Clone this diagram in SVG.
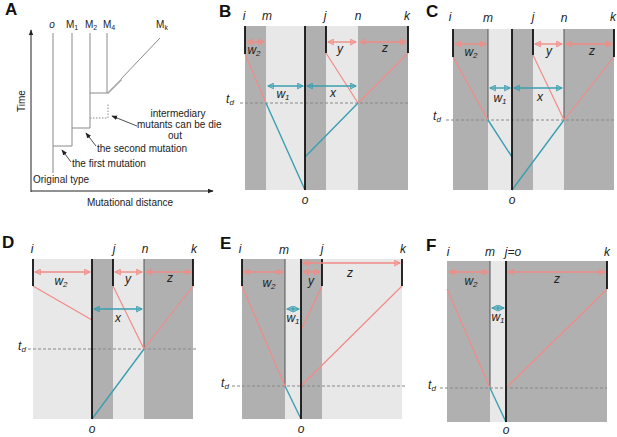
<svg xmlns="http://www.w3.org/2000/svg" width="617" height="437" viewBox="0 0 617 437">
<defs>
<marker id="ap" viewBox="0 0 8 8" refX="7" refY="4" markerWidth="7" markerHeight="7" markerUnits="userSpaceOnUse" orient="auto-start-reverse"><path d="M1,1 L7,4 L1,7 z" fill="none" stroke="#f28b85" stroke-width="1.2"/></marker>
<marker id="at" viewBox="0 0 8 8" refX="7" refY="4" markerWidth="7" markerHeight="7" markerUnits="userSpaceOnUse" orient="auto-start-reverse"><path d="M1,1 L7,4 L1,7 z" fill="none" stroke="#3b9fb0" stroke-width="1.2"/></marker>
<marker id="ak" viewBox="0 0 8 8" refX="7" refY="4" markerWidth="6" markerHeight="6" markerUnits="userSpaceOnUse" orient="auto"><path d="M0,1 L8,4 L0,7 z" fill="#222"/></marker>
</defs>
<style>
text{font-family:"Liberation Sans",Arial,sans-serif;fill:#222}
.pl{font-size:17px;font-weight:bold;fill:#111}
.lb{font-size:12px;font-style:italic;text-anchor:middle}
.an{font-size:10px}
.dk{fill:#b0b0b0}
.lt{fill:#e8e8e8}
.ob{stroke:#111;stroke-width:1.8}
.tn{stroke:#555;stroke-width:1}
.pa{stroke:#f28b85;stroke-width:1.4;marker-start:url(#ap);marker-end:url(#ap)}
.ta{stroke:#3b9fb0;stroke-width:1.4;marker-start:url(#at);marker-end:url(#at)}
.pk{stroke:#f28b85;stroke-width:1.2;fill:none}
.tl{stroke:#3b9fb0;stroke-width:1.4;fill:none}
.da{stroke:#888;stroke-width:1;stroke-dasharray:3,2}
.ga{stroke:#8a8a8a;stroke-width:1;fill:none}
</style>
<rect width="617" height="437" fill="#fff"/>

<g id="panelA">
<text class="pl" x="5" y="15">A</text>
<line x1="31" y1="192" x2="31" y2="30" stroke="#222" stroke-width="1" marker-end="url(#ak)"/>
<line x1="31" y1="191" x2="213" y2="191" stroke="#222" stroke-width="1" marker-end="url(#ak)"/>
<text class="an" transform="translate(25,101) rotate(-90)" text-anchor="middle">Time</text>
<text class="an" x="130" y="206" text-anchor="middle">Mutational distance</text>
<text class="an" x="52" y="28" font-style="italic" text-anchor="middle">o</text>
<text class="an" x="72" y="28" text-anchor="middle">M<tspan font-size="7" dy="2">1</tspan></text>
<text class="an" x="91" y="28" text-anchor="middle">M<tspan font-size="7" dy="2">2</tspan></text>
<text class="an" x="109" y="28" text-anchor="middle">M<tspan font-size="7" dy="2">4</tspan></text>
<text class="an" x="162" y="28" text-anchor="middle">M<tspan font-size="7" dy="2">k</tspan></text>
<path class="ga" d="M53,33 V173 M72,33 V146 H53 M90,33 V128 H72 M107,33 V93 H90"/>
<path class="ga" stroke-dasharray="1.5,1.5" d="M90,118 H108 V103"/>
<path class="ga" d="M107,93 h2 v-2 h2 v-2 h2 v-2 h2 v-2 h2 v-2 h2 v-2 h2 v-2 L160,38"/>
<text class="an" x="178" y="117" text-anchor="middle">intermediary</text>
<text class="an" x="137" y="128">mutants can be die</text>
<text class="an" x="175" y="139" text-anchor="middle">out</text>
<line x1="137" y1="126" x2="112" y2="116" stroke="#222" stroke-width="0.8" marker-end="url(#ak)"/>
<text class="an" x="97" y="152">the second mutation</text>
<line x1="96" y1="146" x2="86" y2="133" stroke="#222" stroke-width="0.8" marker-end="url(#ak)"/>
<text class="an" x="72" y="167">the first mutation</text>
<line x1="71" y1="162" x2="62" y2="150" stroke="#222" stroke-width="0.8" marker-end="url(#ak)"/>
<text class="an" x="33" y="183">Original type</text>
</g>

<g id="panelB">
<text class="pl" x="219" y="17">B</text>
<rect class="dk" x="245" y="26" width="21" height="164"/>
<rect class="lt" x="266" y="26" width="39" height="164"/>
<rect class="dk" x="305" y="26" width="21" height="164"/>
<rect class="lt" x="326" y="26" width="32" height="164"/>
<rect class="dk" x="358" y="26" width="50" height="164"/>
<text class="lb" x="244" y="20">i</text>
<text class="lb" x="267" y="20">m</text>
<text class="lb" x="325" y="20">j</text>
<text class="lb" x="358" y="20">n</text>
<text class="lb" x="407" y="20">k</text>
<line class="da" x1="240" y1="103" x2="408" y2="103"/>
<text class="lb" x="230" y="103">t<tspan font-size="8" dy="2">d</tspan></text>
<path class="pk" d="M245,54 L266,103 M326,53 L358,103 M408,53 L358,103"/>
<path class="tl" d="M266,103 L305,190 M358,103 L305,157"/>
<line class="ob" x1="305" y1="26" x2="305" y2="190"/>
<line class="ob" x1="245" y1="26" x2="245" y2="54"/>
<line class="ob" x1="326" y1="26" x2="326" y2="53"/>
<line class="ob" x1="408" y1="26" x2="408" y2="53"/>
<line class="pa" x1="247" y1="42" x2="264" y2="42"/>
<line class="pa" x1="328" y1="42" x2="356" y2="42"/>
<line class="pa" x1="360" y1="42" x2="406" y2="42"/>
<line class="ta" x1="268" y1="86" x2="303" y2="86"/>
<line class="ta" x1="307" y1="86" x2="356" y2="86"/>
<text class="lb" x="254" y="54">w<tspan font-size="8" dy="2">2</tspan></text>
<text class="lb" x="340" y="53">y</text>
<text class="lb" x="385" y="52">z</text>
<text class="lb" x="283" y="98">w<tspan font-size="8" dy="2">1</tspan></text>
<text class="lb" x="333" y="97">x</text>
<text class="lb" x="305" y="204">o</text>
</g>

<g id="panelC">
<text class="pl" x="426" y="17">C</text>
<rect class="dk" x="453" y="29" width="35" height="161"/>
<rect class="lt" x="488" y="29" width="24" height="161"/>
<rect class="dk" x="512" y="29" width="21" height="161"/>
<rect class="lt" x="533" y="29" width="31" height="161"/>
<rect class="dk" x="564" y="29" width="50" height="161"/>
<text class="lb" x="450" y="21">i</text>
<text class="lb" x="488" y="22">m</text>
<text class="lb" x="533" y="21">j</text>
<text class="lb" x="564" y="22">n</text>
<text class="lb" x="613" y="21">k</text>
<line class="da" x1="446" y1="120" x2="614" y2="120"/>
<text class="lb" x="437" y="120">t<tspan font-size="8" dy="2">d</tspan></text>
<line class="tn" x1="488" y1="29" x2="488" y2="120"/>
<line class="tn" x1="564" y1="29" x2="564" y2="120"/>
<path class="pk" d="M453,57 L488,120 M533,55 L564,120 M614,57 L564,120"/>
<path class="tl" d="M488,120 L512,157 M564,120 L512,190"/>
<line class="ob" x1="512" y1="29" x2="512" y2="190"/>
<line class="ob" x1="453" y1="29" x2="453" y2="57"/>
<line class="ob" x1="533" y1="29" x2="533" y2="55"/>
<line class="ob" x1="614" y1="29" x2="614" y2="57"/>
<line class="pa" x1="455" y1="44" x2="486" y2="44"/>
<line class="pa" x1="535" y1="44" x2="562" y2="44"/>
<line class="pa" x1="566" y1="44" x2="612" y2="44"/>
<line class="ta" x1="490" y1="88" x2="510" y2="88"/>
<line class="ta" x1="514" y1="88" x2="562" y2="88"/>
<text class="lb" x="471" y="56">w<tspan font-size="8" dy="2">2</tspan></text>
<text class="lb" x="549" y="55">y</text>
<text class="lb" x="592" y="55">z</text>
<text class="lb" x="500" y="102">w<tspan font-size="8" dy="2">1</tspan></text>
<text class="lb" x="540" y="101">x</text>
<text class="lb" x="512" y="204">o</text>
</g>

<g id="panelD">
<text class="pl" x="2" y="248">D</text>
<rect class="lt" x="33" y="259" width="59" height="160"/>
<rect class="dk" x="92" y="259" width="21" height="160"/>
<rect class="lt" x="113" y="259" width="31" height="160"/>
<rect class="dk" x="144" y="259" width="49" height="160"/>
<text class="lb" x="32" y="253">i</text>
<text class="lb" x="114" y="253">j</text>
<text class="lb" x="145" y="253">n</text>
<text class="lb" x="194" y="253">k</text>
<line class="da" x1="28" y1="349" x2="198" y2="349"/>
<text class="lb" x="22" y="350">t<tspan font-size="8" dy="2">d</tspan></text>
<line class="tn" x1="144" y1="259" x2="144" y2="349"/>
<path class="pk" d="M33,286 L92,320 M113,286 L144,349 M193,286 L144,349"/>
<path class="tl" d="M144,349 L92,419"/>
<line class="ob" x1="92" y1="259" x2="92" y2="419"/>
<line class="ob" x1="33" y1="259" x2="33" y2="286"/>
<line class="ob" x1="113" y1="259" x2="113" y2="286"/>
<line class="ob" x1="193" y1="259" x2="193" y2="286"/>
<line class="pa" x1="35" y1="272" x2="90" y2="272"/>
<line class="pa" x1="115" y1="272" x2="142" y2="272"/>
<line class="pa" x1="146" y1="272" x2="191" y2="272"/>
<line class="ta" x1="94" y1="309" x2="142" y2="309"/>
<text class="lb" x="61" y="285">w<tspan font-size="8" dy="2">2</tspan></text>
<text class="lb" x="128" y="283">y</text>
<text class="lb" x="170" y="282">z</text>
<text class="lb" x="118" y="322">x</text>
<text class="lb" x="92" y="433">o</text>
</g>

<g id="panelE">
<text class="pl" x="220" y="249">E</text>
<rect class="dk" x="242" y="259" width="43" height="160"/>
<rect class="lt" x="285" y="259" width="16" height="160"/>
<rect class="dk" x="301" y="259" width="21" height="160"/>
<rect class="lt" x="322" y="259" width="80" height="160"/>
<text class="lb" x="240" y="253">i</text>
<text class="lb" x="284" y="254">m</text>
<text class="lb" x="322" y="253">j</text>
<text class="lb" x="403" y="253">k</text>
<line class="da" x1="232" y1="386" x2="405" y2="386"/>
<text class="lb" x="225" y="387">t<tspan font-size="8" dy="2">d</tspan></text>
<line class="tn" x1="285" y1="259" x2="285" y2="386"/>
<path class="pk" d="M242,286 L285,386 M322,286 L301,330 M402,286 L301,386"/>
<path class="tl" d="M285,386 L301,419"/>
<line class="ob" x1="301" y1="259" x2="301" y2="419"/>
<line class="ob" x1="242" y1="259" x2="242" y2="286"/>
<line class="ob" x1="322" y1="259" x2="322" y2="286"/>
<line class="ob" x1="402" y1="259" x2="402" y2="286"/>
<line class="pa" x1="244" y1="272" x2="283" y2="272"/>
<line class="pa" x1="303" y1="272" x2="320" y2="272"/>
<line class="pa" x1="303" y1="263" x2="400" y2="263"/>
<line class="ta" x1="287" y1="309" x2="299" y2="309"/>
<text class="lb" x="269" y="287">w<tspan font-size="8" dy="2">2</tspan></text>
<text class="lb" x="311" y="285">y</text>
<text class="lb" x="350" y="277">z</text>
<text class="lb" x="293" y="322">w<tspan font-size="8" dy="2">1</tspan></text>
<text class="lb" x="301" y="433">o</text>
</g>

<g id="panelF">
<text class="pl" x="426" y="251">F</text>
<rect class="dk" x="447" y="261" width="43" height="161"/>
<rect class="lt" x="490" y="261" width="16" height="161"/>
<rect class="dk" x="506" y="261" width="101" height="161"/>
<text class="lb" x="448" y="256">i</text>
<text class="lb" x="490" y="256">m</text>
<text class="lb" x="513" y="256">j=o</text>
<text class="lb" x="607" y="256">k</text>
<line class="da" x1="440" y1="388" x2="607" y2="388"/>
<text class="lb" x="432" y="389">t<tspan font-size="8" dy="2">d</tspan></text>
<line class="tn" x1="490" y1="261" x2="490" y2="388"/>
<path class="pk" d="M447,289 L490,388 M607,289 L506,388"/>
<path class="tl" d="M490,388 L506,422"/>
<line class="ob" x1="506" y1="261" x2="506" y2="422"/>
<line class="ob" x1="607" y1="261" x2="607" y2="289"/>
<line class="pa" x1="449" y1="272" x2="488" y2="272"/>
<line class="pa" x1="508" y1="272" x2="605" y2="272"/>
<line class="ta" x1="492" y1="308" x2="504" y2="308"/>
<text class="lb" x="471" y="285">w<tspan font-size="8" dy="2">2</tspan></text>
<text class="lb" x="557" y="283">z</text>
<text class="lb" x="498" y="321">w<tspan font-size="8" dy="2">1</tspan></text>
<text class="lb" x="506" y="434">o</text>
</g>
</svg>
